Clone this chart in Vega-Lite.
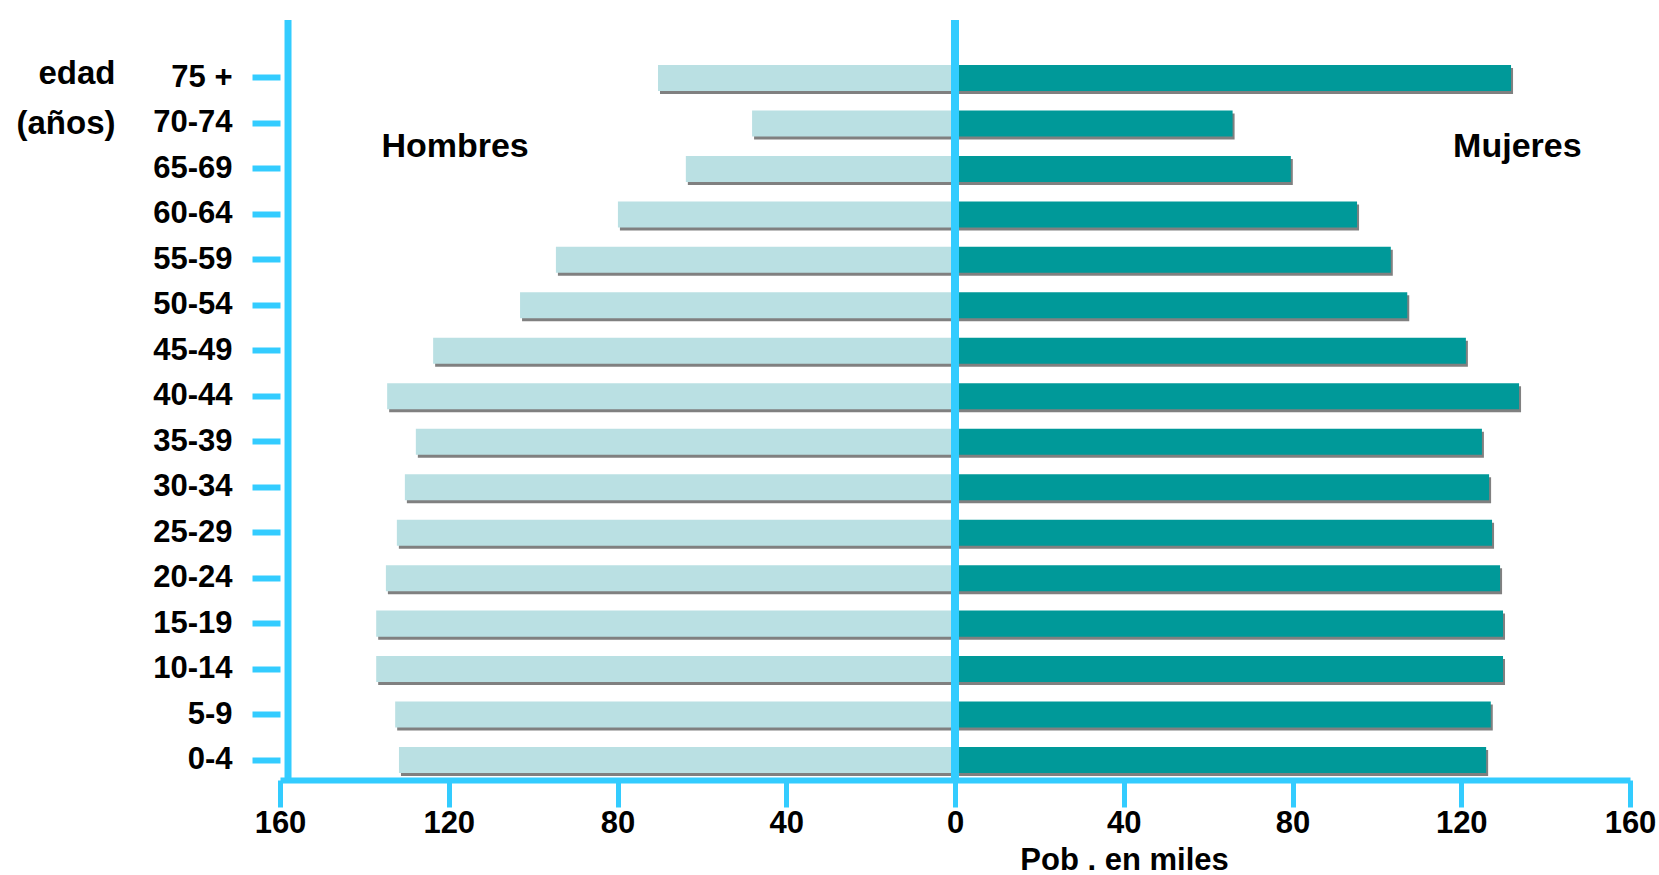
{
  "$schema": "https://vega.github.io/schema/vega-lite/v6.json",
  "width": 1350,
  "height": 760,
  "autosize": {"type": "none"},
  "padding": {"left": 280, "top": 20, "right": 29, "bottom": 95},
  "background": "white",
  "config": {"view": {"stroke": null}},
  "data": {
    "values": [
      {"age": "75 +", "sex": "Hombres", "value": -70.4},
      {"age": "70-74", "sex": "Hombres", "value": -48.1},
      {"age": "65-69", "sex": "Hombres", "value": -63.8},
      {"age": "60-64", "sex": "Hombres", "value": -79.9},
      {"age": "55-59", "sex": "Hombres", "value": -94.6},
      {"age": "50-54", "sex": "Hombres", "value": -103.1},
      {"age": "45-49", "sex": "Hombres", "value": -123.7},
      {"age": "40-44", "sex": "Hombres", "value": -134.6},
      {"age": "35-39", "sex": "Hombres", "value": -127.8},
      {"age": "30-34", "sex": "Hombres", "value": -130.4},
      {"age": "25-29", "sex": "Hombres", "value": -132.3},
      {"age": "20-24", "sex": "Hombres", "value": -134.9},
      {"age": "15-19", "sex": "Hombres", "value": -137.2},
      {"age": "10-14", "sex": "Hombres", "value": -137.2},
      {"age": "5-9", "sex": "Hombres", "value": -132.7},
      {"age": "0-4", "sex": "Hombres", "value": -131.8},
      {"age": "75 +", "sex": "Mujeres", "value": 131.8},
      {"age": "70-74", "sex": "Mujeres", "value": 65.8},
      {"age": "65-69", "sex": "Mujeres", "value": 79.6},
      {"age": "60-64", "sex": "Mujeres", "value": 95.3},
      {"age": "55-59", "sex": "Mujeres", "value": 103.3},
      {"age": "50-54", "sex": "Mujeres", "value": 107.2},
      {"age": "45-49", "sex": "Mujeres", "value": 121.1},
      {"age": "40-44", "sex": "Mujeres", "value": 133.7},
      {"age": "35-39", "sex": "Mujeres", "value": 124.9},
      {"age": "30-34", "sex": "Mujeres", "value": 126.6},
      {"age": "25-29", "sex": "Mujeres", "value": 127.3},
      {"age": "20-24", "sex": "Mujeres", "value": 129.2},
      {"age": "15-19", "sex": "Mujeres", "value": 129.9},
      {"age": "10-14", "sex": "Mujeres", "value": 129.9},
      {"age": "5-9", "sex": "Mujeres", "value": 127.0},
      {"age": "0-4", "sex": "Mujeres", "value": 125.9}
    ]
  },
  "layer": [
    {
      "mark": {"type": "bar", "color": "#808080", "xOffset": 2, "x2Offset": 2, "yOffset": 3, "y2Offset": 3},
      "encoding": {
        "y": {
          "field": "age",
          "type": "nominal",
          "sort": null,
          "scale": {"type": "band", "domain": ["75 +", "70-74", "65-69", "60-64", "55-59", "50-54", "45-49", "40-44", "35-39", "30-34", "25-29", "20-24", "15-19", "10-14", "5-9", "0-4"], "paddingInner": 0.428, "paddingOuter": 0.571, "align": 0.866},
          "axis": {
            "domain": false,
            "grid": false,
            "ticks": true,
            "tickSize": 28,
            "tickWidth": 6,
            "tickColor": "#33CCFF",
            "labelFont": "Liberation Sans",
            "labelFontSize": 31,
            "labelFontWeight": "bold",
            "labelColor": "#000000",
            "labelPadding": 20,
            "title": ["edad", "(años)"],
            "titleFont": "Liberation Sans",
            "titleFontSize": 33,
            "titleFontWeight": "bold",
            "titleColor": "#000000",
            "titleAngle": 0,
            "titleAlign": "right",
            "titleBaseline": "alphabetic",
            "titleX": -165,
            "titleY": 63,
            "titleLineHeight": 50
          }
        },
        "x": {
          "field": "value",
          "type": "quantitative",
          "scale": {"domain": [-160, 160], "nice": false, "zero": false},
          "axis": {
            "values": [-160, -120, -80, -40, 0, 40, 80, 120, 160],
            "labelExpr": "abs(datum.value)",
            "grid": false,
            "domainColor": "#33CCFF",
            "domainWidth": 6,
            "domainCap": "butt",
            "tickColor": "#33CCFF",
            "tickWidth": 5,
            "tickSize": 27,
            "labelFont": "Liberation Sans",
            "labelFontSize": 31,
            "labelFontWeight": "bold",
            "labelColor": "#000000",
            "labelBaseline": "middle",
            "labelPadding": 16,
            "labelFlush": false,
            "labelOverlap": false,
            "title": "Pob . en  miles",
            "titleFont": "Liberation Sans",
            "titleFontSize": 31,
            "titleFontWeight": "bold",
            "titleColor": "#000000",
            "titleAlign": "center",
            "titleBaseline": "alphabetic",
            "titleX": 844,
            "titleY": 89
          }
        },
        "x2": {"datum": 0}
      }
    },
    {
      "mark": {"type": "bar"},
      "encoding": {
        "y": {"field": "age", "type": "nominal", "sort": null},
        "x": {"field": "value", "type": "quantitative"},
        "x2": {"datum": 0},
        "color": {
          "field": "sex",
          "type": "nominal",
          "scale": {"domain": ["Hombres", "Mujeres"], "range": ["#BAE0E3", "#009999"]},
          "legend": null
        }
      }
    },
    {
      "data": {"values": [{"pos": 0}]},
      "mark": {"type": "rule", "color": "#33CCFF", "strokeWidth": 8, "strokeCap": "butt"},
      "encoding": {"x": {"field": "pos", "type": "quantitative"}}
    },
    {
      "data": {"values": [{"pos": -158.1}]},
      "mark": {"type": "rule", "color": "#33CCFF", "strokeWidth": 7, "strokeCap": "butt"},
      "encoding": {"x": {"field": "pos", "type": "quantitative"}}
    },
    {
      "data": {"values": [{"label": "Hombres", "pos": -118.5, "age": "70-74"}, {"label": "Mujeres", "pos": 133.3, "age": "70-74"}]},
      "mark": {"type": "text", "font": "Liberation Sans", "fontSize": 34, "fontWeight": "bold", "align": "center", "baseline": "alphabetic", "dy": 34, "color": "#000000"},
      "encoding": {
        "x": {"field": "pos", "type": "quantitative"},
        "y": {"field": "age", "type": "nominal", "sort": null},
        "text": {"field": "label"}
      }
    }
  ]
}
